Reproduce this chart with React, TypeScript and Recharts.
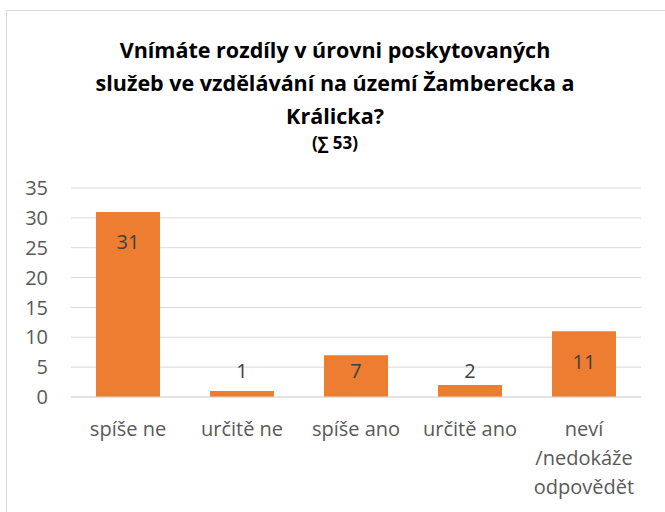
import { BarChart, Bar, XAxis, YAxis, CartesianGrid, LabelList, Text } from 'recharts'

const categories = ['spíše ne', 'určitě ne', 'spíše ano', 'určitě ano', 'neví /nedokáže odpovědět']
const counts = [31, 1, 7, 2, 11]
const yTicks = [0, 5, 10, 15, 20, 25, 30, 35]
const titleLines = ['Vnímáte rozdíly v úrovni poskytovaných', 'služeb ve vzdělávání na území Žamberecka a', 'Králicka?']
const subtitle = '(∑ 53)'

const data = categories.map((name, i) => ({ name, count: counts[i] }))

const FONT = '"Open Sans", "Noto Sans", sans-serif'
const GREY = '#595959'

function CategoryTick(props: any) {
  const { x, y, payload } = props
  return (
    <Text
      x={x}
      y={y + 17}
      width={110}
      textAnchor="middle"
      verticalAnchor="start"
      lineHeight={29}
      fill={GREY}
      style={{ fontSize: 20, fontFamily: FONT }}
    >
      {payload.value}
    </Text>
  )
}

function CountLabel(props: any) {
  const { x, y, width, height, value } = props
  const base = y + height
  const ly = Math.min(y + 30, base - 27)
  return (
    <text
      x={x + width / 2}
      y={ly}
      textAnchor="middle"
      dominantBaseline="central"
      fill="#404040"
      fontSize={20}
      fontFamily={FONT}
    >
      {value}
    </text>
  )
}

export default function App() {
  return (
    <div style={{ position: 'relative', width: 665, height: 512, overflow: 'hidden', background: '#fff' }}>
      <style>{'body{margin:0}'}</style>
      <div
        style={{
          position: 'absolute',
          left: 6,
          top: 10,
          width: 680,
          height: 520,
          border: '1px solid #d9d9d9',
          boxSizing: 'border-box',
        }}
      />
      <div
        style={{
          position: 'absolute',
          left: 0,
          top: 33,
          width: 670,
          textAlign: 'center',
          fontFamily: FONT,
          fontWeight: 700,
          fontSize: 21.5,
          lineHeight: '33px',
          color: '#000',
        }}
      >
        {titleLines.map((l) => (
          <div key={l}>{l}</div>
        ))}
        <div style={{ fontSize: 17, lineHeight: '22px' }}>{subtitle}</div>
      </div>
      <div style={{ position: 'absolute', left: 0, top: 0 }}>
        <BarChart
          width={665}
          height={512}
          data={data}
          margin={{ top: 188, right: 24, left: 11, bottom: 15 }}
          barCategoryGap={25}
        >
          <CartesianGrid vertical={false} stroke="#d9d9d9" />
          <YAxis
            width={60}
            domain={[0, 35]}
            ticks={yTicks}
            interval={0}
            axisLine={false}
            tickLine={false}
            tickMargin={17}
            tick={{ fill: GREY, fontSize: 20, fontFamily: FONT }}
          />
          <XAxis
            dataKey="name"
            height={100}
            interval={0}
            axisLine={{ stroke: '#d9d9d9' }}
            tickLine={false}
            tick={<CategoryTick />}
          />
          <Bar dataKey="count" fill="#ed7d31" isAnimationActive={false}>
            <LabelList dataKey="count" content={<CountLabel />} />
          </Bar>
        </BarChart>
      </div>
    </div>
  )
}
